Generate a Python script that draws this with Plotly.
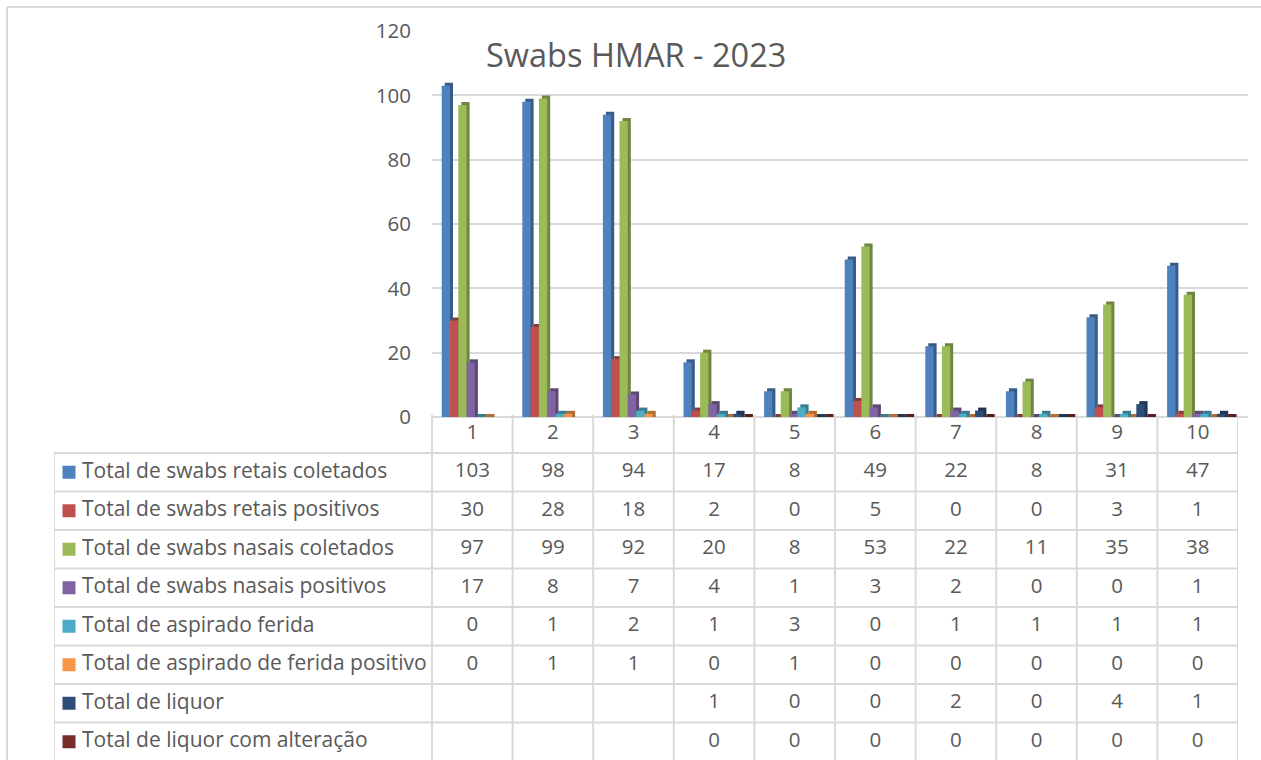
import plotly.graph_objects as go

categories = ["1", "2", "3", "4", "5", "6", "7", "8", "9", "10"]
series_names = [
    "Total de swabs retais coletados",
    "Total de swabs retais positivos",
    "Total de swabs nasais coletados",
    "Total de swabs nasais positivos",
    "Total de aspirado ferida",
    "Total de aspirado de ferida positivo",
    "Total de liquor",
    "Total de liquor com alteração",
]
retais_coletados = [103, 98, 94, 17, 8, 49, 22, 8, 31, 47]
retais_positivos = [30, 28, 18, 2, 0, 5, 0, 0, 3, 1]
nasais_coletados = [97, 99, 92, 20, 8, 53, 22, 11, 35, 38]
nasais_positivos = [17, 8, 7, 4, 1, 3, 2, 0, 0, 1]
aspirado_ferida = [0, 1, 2, 1, 3, 0, 1, 1, 1, 1]
aspirado_positivo = [0, 1, 1, 0, 1, 0, 0, 0, 0, 0]
liquor = [None, None, None, 1, 0, 0, 2, 0, 4, 1]
liquor_alteracao = [None, None, None, 0, 0, 0, 0, 0, 0, 0]
series_values = [retais_coletados, retais_positivos, nasais_coletados, nasais_positivos,
                 aspirado_ferida, aspirado_positivo, liquor, liquor_alteracao]
colors = ["#4F81BD", "#C0504D", "#9BBB59", "#8064A2", "#4BACC6", "#F79646", "#2C4D75", "#772C2A"]
y_ticks = [0, 20, 40, 60, 80, 100, 120]
title_text = "Swabs HMAR - 2023"

W, H = 1261, 760
TXT = "#595959"
GRID = "#d9d9d9"
FONT = "Open Sans"

col_w = 80.6
plot_left, plot_right = 432, 1248
plot_top, plot_bot = 31, 417
tab_left, tab_right = 54, 1238
row_h = 38.5
tab_top = 414.5

def darker(hexc, f=0.72):
    h = hexc.lstrip("#")
    r, g, b = (int(h[i:i + 2], 16) for i in (0, 2, 4))
    return "rgb(%d,%d,%d)" % (r * f, g * f, b * f)

n = len(categories)
xs = list(range(n))
bw = 8.3 / col_w
grp_off = 9.7 / col_w - 0.5
dx = 3.0 / col_w
dy = 3.0 * 120 / (plot_bot - plot_top)

fig = go.Figure()
# 3D side/top faces
for s, vals in enumerate(series_values):
    fig.add_trace(go.Bar(
        x=xs, y=[None if v is None else v + dy for v in vals], base=0,
        offset=grp_off + s * bw + dx, width=bw,
        marker=dict(color=darker(colors[s]), line=dict(width=0)),
        showlegend=False, hoverinfo="skip"))
# front faces
for s, vals in enumerate(series_values):
    fig.add_trace(go.Bar(
        x=xs, y=vals, name=series_names[s],
        offset=grp_off + s * bw, width=bw,
        marker=dict(color=colors[s], line=dict(width=0)),
        showlegend=False))

# data table below the chart
x2_left = -0.5 - (plot_left - tab_left) / col_w
x2_right = -0.5 + n
y2_bottom = -0.5 + (H - tab_top) / row_h
nrows = len(series_names)
CELL_SIZE = 20.5

fig.add_trace(go.Scatter(
    x=xs, y=[0] * n, text=categories, mode="text", xaxis="x2", yaxis="y2",
    textfont=dict(family=FONT, size=CELL_SIZE, color=TXT), showlegend=False, hoverinfo="skip"))
for r, vals in enumerate(series_values):
    fig.add_trace(go.Scatter(
        x=xs, y=[r + 1] * n, text=["" if v is None else str(v) for v in vals],
        mode="text", xaxis="x2", yaxis="y2",
        textfont=dict(family=FONT, size=CELL_SIZE, color=TXT), showlegend=False, hoverinfo="skip"))
key_x = x2_left + 15.0 / col_w
lab_x = x2_left + 28.0 / col_w
fig.add_trace(go.Scatter(
    x=[key_x] * nrows, y=list(range(1, nrows + 1)), mode="markers",
    marker=dict(symbol="square", size=13, color=colors, line=dict(width=0)),
    xaxis="x2", yaxis="y2", showlegend=False, hoverinfo="skip"))
fig.add_trace(go.Scatter(
    x=[lab_x] * nrows, y=list(range(1, nrows + 1)), text=series_names,
    mode="text", textposition="middle right", xaxis="x2", yaxis="y2",
    textfont=dict(family=FONT, size=21, color=TXT), showlegend=False, hoverinfo="skip"))

shapes = []
line = dict(color=GRID, width=2)
for j in range(n + 1):
    shapes.append(dict(type="line", xref="x2", yref="y2", x0=j - 0.5, x1=j - 0.5,
                       y0=-0.5, y1=nrows + 0.5, line=line))
shapes.append(dict(type="line", xref="x2", yref="y2", x0=x2_left, x1=x2_left,
                   y0=0.5, y1=nrows + 0.5, line=line))
for r in range(nrows + 1):
    shapes.append(dict(type="line", xref="x2", yref="y2", x0=x2_left, x1=x2_right,
                       y0=r + 0.5, y1=r + 0.5, line=line))
# chart outer border
shapes.append(dict(type="line", xref="paper", yref="paper", x0=7 / W, x1=1,
                   y0=1 - 7 / H, y1=1 - 7 / H, line=line))
shapes.append(dict(type="line", xref="paper", yref="paper", x0=7 / W, x1=7 / W,
                   y0=0, y1=1 - 7 / H, line=line))

fig.update_layout(
    width=W, height=H, margin=dict(l=0, r=0, t=0, b=0, pad=0, autoexpand=False),
    paper_bgcolor="white", plot_bgcolor="rgba(0,0,0,0)",
    barmode="overlay", showlegend=False,
    font=dict(family=FONT, color=TXT),
    xaxis=dict(domain=[plot_left / W, plot_right / W],
               range=[-0.5, -0.5 + (plot_right - plot_left) / col_w],
               showticklabels=False, showgrid=False, zeroline=False, fixedrange=True,
               automargin=False),
    yaxis=dict(domain=[(H - plot_bot) / H, (H - plot_top) / H], range=[0, 120],
               tickvals=y_ticks, ticktext=[str(t) for t in y_ticks],
               showgrid=True, gridcolor=GRID, gridwidth=1.5,
               zeroline=True, zerolinecolor=GRID, zerolinewidth=1.5,
               tickfont=dict(family=FONT, size=20.5, color=TXT),
               ticklabelstandoff=20, showline=False, automargin=False, fixedrange=True),
    xaxis2=dict(domain=[tab_left / W, tab_right / W], range=[x2_left, x2_right],
                visible=False, fixedrange=True, anchor="y2", automargin=False),
    yaxis2=dict(domain=[0, (H - tab_top) / H], range=[y2_bottom, -0.5],
                visible=False, fixedrange=True, anchor="x2", automargin=False),
    shapes=shapes,
    annotations=[dict(text=title_text, xref="paper", yref="paper",
                      x=636 / W, y=1 - 54 / H, xanchor="center", yanchor="middle",
                      showarrow=False, font=dict(family=FONT, size=32.5, color=TXT))],
)

fig.write_html("out.html", config={"displayModeBar": False},
               post_script="document.body.style.margin='0';document.body.style.overflow='hidden';")
